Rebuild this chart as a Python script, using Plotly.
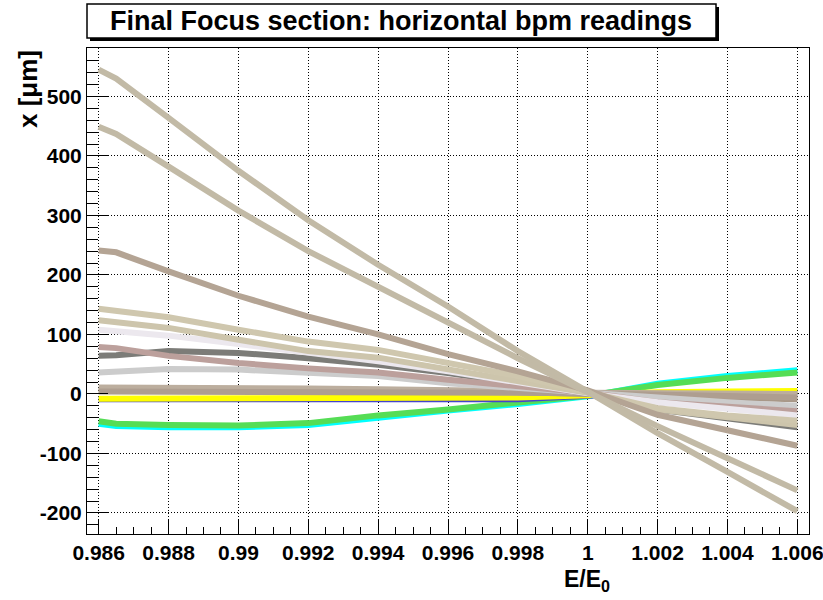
import plotly.graph_objects as go

# Relative beam energy at each scan point
energy = [0.986, 0.9865, 0.988, 0.990, 0.992, 0.994, 0.996, 0.998, 1.000, 1.002, 1.004, 1.006]

# Horizontal BPM readings [um], one list per monitor
bpm_cyan = [-50, -54, -56, -56, -52, -39, -28, -17, -4, 17, 30, 40]
bpm_green = [-46, -50, -52, -53, -49, -36, -26, -15, -3, 15, 27, 36]
bpm_blue = [-9, -9, -9, -9, -9, -9, -9, -9, -3, 1, 2, 3]
bpm_yellow = [-8, -8, -8, -8, -8, -7, -7, -6, -2, 3, 4, 5]
bpm_band1 = [11, 11, 11, 10, 9, 8, 7, 5, 2, 1, 1, 0]
bpm_band2 = [4, 4, 4, 4, 4, 3, 3, 2, 1, -2, -4, -6]
bpm_band3 = [6, 6, 6, 6, 5, 5, 4, 3, 1, -3, -6, -9]
bpm_i = [36, 37, 42, 41, 36, 30, 18, 10, 1, -8, -14, -20]
bpm_h = [64, 65, 72, 69, 60, 49, 35, 18, 1, -26, -42, -56]
bpm_g = [79, 77, 64, 52, 43, 36, 24, 13, 2, -14, -21, -29]
bpm_f = [108, 106, 98, 84, 70, 55, 38, 20, 1, -14, -26, -36]
bpm_e = [124, 121, 111, 91, 72, 61, 41, 21, 2, -26, -40, -52]
bpm_d = [143, 140, 129, 108, 88, 74, 52, 30, 3, -24, -36, -45]
bpm_c = [241, 238, 206, 165, 130, 100, 67, 38, 6, -35, -61, -87]
bpm_b = [449, 437, 382, 308, 240, 180, 120, 60, 3, -54, -108, -162]
bpm_a = [545, 530, 464, 375, 292, 217, 147, 72, 4, -66, -131, -197]

x_ticks = [0.986, 0.988, 0.990, 0.992, 0.994, 0.996, 0.998, 1.000, 1.002, 1.004, 1.006]
x_labels = ["0.986", "0.988", "0.99", "0.992", "0.994", "0.996", "0.998", "1", "1.002", "1.004", "1.006"]
y_ticks = [-200, -100, 0, 100, 200, 300, 400, 500]
y_labels = ["-200", "-100", "0", "100", "200", "300", "400", "500"]

series = [
    (bpm_cyan, "#00ffff"),
    (bpm_green, "#55dd55"),
    (bpm_blue, "#4444cc"),
    (bpm_yellow, "#ffff00"),
    (bpm_band3, "#a89888"),
    (bpm_band1, "#bcae9e"),
    (bpm_band2, "#ae9e90"),
    (bpm_i, "#cccccc"),
    (bpm_h, "#7c7c78"),
    (bpm_g, "#bca09c"),
    (bpm_f, "#ece8ee"),
    (bpm_e, "#cdc5ac"),
    (bpm_d, "#cfc7ae"),
    (bpm_c, "#b4a494"),
    (bpm_b, "#c2baa6"),
    (bpm_a, "#c2baa6"),
]

fig = go.Figure()
for values, color in series:
    fig.add_trace(go.Scatter(x=energy, y=values, mode="lines",
                             line=dict(color=color, width=6),
                             showlegend=False, hoverinfo="skip"))

W, H = 823, 600
L, R, T, B = 87, 14, 48, 66
pw, ph = W - L - R, H - T - B


def px(xp):
    return (xp - L) / pw


def py(yp):
    return (H - B - yp) / ph


font_bold = dict(family="Liberation Sans, Arial, sans-serif", color="black", weight="bold")

axis_common = dict(
    showline=True, linecolor="black", linewidth=1, mirror=True,
    ticks="inside", tickcolor="black", tickwidth=1,
    showgrid=True, gridcolor="black", gridwidth=1, griddash="1px,2px",
    zeroline=False, tickmode="array", ticklabeloverflow="allow", automargin=False,
    tickfont=dict(size=21, **font_bold),
)

fig.update_xaxes(
    range=[0.985665, 1.006335], tickvals=x_ticks, ticktext=x_labels, ticklen=15,
    minor=dict(ticks="inside", ticklen=7, tickcolor="black", tickmode="linear",
               tick0=0.986, dtick=0.0005, showgrid=False),
    **axis_common,
)
fig.update_yaxes(
    range=[-235.3, 581.3], tickvals=y_ticks, ticktext=y_labels, ticklen=21,
    minor=dict(ticks="inside", ticklen=11, tickcolor="black", tickmode="linear",
               tick0=0, dtick=20, showgrid=False),
    **axis_common,
)

# Title box with drop shadow
fig.add_shape(type="rect", xref="paper", yref="paper",
              x0=px(90), x1=px(719), y0=py(41), y1=py(7),
              fillcolor="black", line=dict(width=0), layer="above")
fig.add_shape(type="rect", xref="paper", yref="paper",
              x0=px(87), x1=px(716), y0=py(38), y1=py(4),
              fillcolor="white", line=dict(color="black", width=1.5), layer="above")

fig.add_annotation(text="Final Focus section: horizontal bpm readings",
                   xref="paper", yref="paper", x=px(401), y=py(21),
                   xanchor="center", yanchor="middle", showarrow=False,
                   font=dict(size=27, **font_bold))
fig.add_annotation(text="x [μm]", xref="paper", yref="paper",
                   x=px(28), y=1.0, xanchor="center", yanchor="top",
                   textangle=-90, showarrow=False, font=dict(size=26, **font_bold))
fig.add_annotation(text="E/E<sub>0</sub>", xref="paper", yref="paper",
                   x=px(587), y=py(580), xanchor="center", yanchor="middle",
                   showarrow=False, font=dict(size=23, **font_bold))

fig.update_layout(
    width=W, height=H, autosize=False,
    margin=dict(l=L, r=R, t=T, b=B, autoexpand=False),
    paper_bgcolor="white", plot_bgcolor="white",
)

fig.write_html("out.html")
